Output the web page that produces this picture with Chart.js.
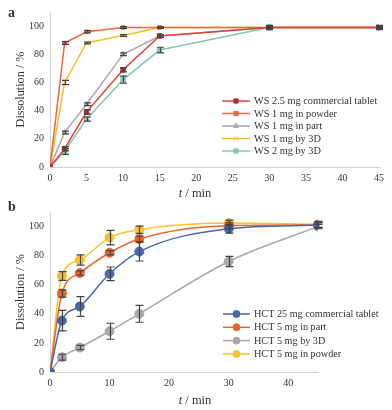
<!DOCTYPE html>
<html><head><meta charset="utf-8">
<script src="https://cdn.jsdelivr.net/npm/chart.js@4"></script>
<style>
html,body{margin:0;padding:0;background:#fff;}
#wrap{position:relative;width:392px;height:410px;overflow:hidden;font-family:"Liberation Serif","DejaVu Serif",serif;color:#333;}
canvas{position:absolute;left:0;}
.lab{position:absolute;font-size:14px;font-weight:bold;line-height:14px;}
.xt{position:absolute;font-size:12.5px;line-height:13px;transform:translate(-50%,-50%);white-space:nowrap;}
</style></head><body>
<div id="wrap">
<canvas id="ca" width="392" height="200" style="top:0"></canvas>
<canvas id="cb" width="392" height="210" style="top:200px"></canvas>
<div class="lab" style="left:8px;top:6px">a</div>
<div class="lab" style="left:8px;top:200px">b</div>
<div class="xt" style="left:195px;top:193px"><i>t</i> / min</div>
<div class="xt" style="left:195px;top:400px"><i>t</i> / min</div>
</div>
<script>
// ---- Panel a data ----
const timesA = [0, 2, 5, 10, 15, 30, 45];
const labelsA = ["WS 2.5 mg commercial tablet", "WS 1 mg in powder", "WS 1 mg in part", "WS 1 mg by 3D", "WS 2 mg by 3D"];
const wsCommercial = [0, 13, 39, 69, 93, 99, 99];
const wsCommercialErr = [0, 1.5, 1.5, 1.5, 1, 1, 1];
const wsPowder = [0, 88, 96, 99, 99, 99, 99];
const wsPowderErr = [0, 1, 0.8, 0.6, 0.5, 0.5, 0.5];
const wsPart = [0, 24.5, 44.5, 80, 93, 99, 99];
const wsPartErr = [0, 1, 1, 1, 1, 1, 1];
const ws1mg3D = [0, 60, 88, 93.3, 99, 99, 99];
const ws1mg3DErr = [0, 1.5, 0.6, 0.6, 0.5, 0.5, 0.5];
const ws2mg3D = [0, 11, 34, 62, 83, 99, 99];
const ws2mg3DErr = [0, 2, 1.5, 2.5, 2, 1.5, 1.5];
const yTicksA = [0, 20, 40, 60, 80, 100];
const xTicksA = [0, 5, 10, 15, 20, 25, 30, 35, 40, 45];

// ---- Panel b data ----
const timesB = [0, 2, 5, 10, 15, 30, 45];
const labelsB = ["HCT 25 mg commercial tablet", "HCT 5 mg in part", "HCT 5 mg by 3D", "HCT 5 mg in powder"];
const hctCommercial = [0, 35.3, 45, 67.5, 82.8, 98.5, 101];
const hctCommercialErr = [0, 7, 6.8, 4.7, 6.5, 3, 2];
const hctPart = [0, 54, 68, 82, 91.5, 100.6, 101];
const hctPartErr = [0, 2.5, 1.5, 1.5, 2, 2, 1.5];
const hct3D = [0, 10.2, 16.8, 28, 40, 76, 100];
const hct3DErr = [0, 2, 1.5, 5.5, 5.8, 3.5, 1.5];
const hctPowder = [0, 66, 77, 92.4, 97.8, 102.4, 101.5];
const hctPowderErr = [0, 3, 3.5, 5, 2.5, 2, 2];
const yTicksB = [0, 20, 40, 60, 80, 100];
const xTicksB = [0, 10, 20, 30, 40];

const FONT = "'Liberation Serif', 'DejaVu Serif', serif";

function pts(xs, ys) { return xs.map((x, i) => ({x: x, y: ys[i]})); }

const errorBarPlugin = {
  id: 'errorBars',
  afterDatasetsDraw(chart, args, opts) {
    const ctx = chart.ctx, xs = chart.scales.x, ys = chart.scales.y;
    ctx.save();
    ctx.strokeStyle = opts.color || '#444';
    ctx.lineWidth = opts.width || 1.2;
    const cap = opts.cap || 4;
    chart.data.datasets.forEach(ds => {
      if (!ds.errors) return;
      ds.data.forEach((p, i) => {
        const e = ds.errors[i];
        if (!e) return;
        const px = Math.round(xs.getPixelForValue(p.x)) + 0.5;
        const y1 = ys.getPixelForValue(p.y + e), y2 = ys.getPixelForValue(p.y - e);
        ctx.beginPath();
        ctx.moveTo(px, y1); ctx.lineTo(px, y2);
        ctx.moveTo(px - cap, y1); ctx.lineTo(px + cap, y1);
        ctx.moveTo(px - cap, y2); ctx.lineTo(px + cap, y2);
        ctx.stroke();
      });
    });
    ctx.restore();
  }
};

const legendPlugin = {
  id: 'innerLegend',
  afterDraw(chart, args, opts) {
    const ctx = chart.ctx;
    ctx.save();
    chart.data.datasets.forEach((ds, i) => {
      const y = opts.y + i * opts.dy;
      ctx.strokeStyle = ds.borderColor;
      ctx.lineWidth = 1.5;
      ctx.beginPath(); ctx.moveTo(opts.x1, y); ctx.lineTo(opts.x2, y); ctx.stroke();
      ctx.fillStyle = ds.pointBackgroundColor;
      ctx.strokeStyle = ds.pointBorderColor;
      ctx.lineWidth = 1;
      Chart.helpers.drawPoint(ctx, {pointStyle: ds.pointStyle, rotation: 0, radius: opts.r, borderWidth: 1}, (opts.x1 + opts.x2) / 2, y);
      ctx.fillStyle = '#333';
      ctx.font = opts.font;
      ctx.textBaseline = 'middle';
      ctx.textAlign = 'left';
      ctx.fillText(ds.label, opts.x2 + 4, y + 0.5);
    });
    ctx.restore();
  }
};

function mkDs(label, xs, ys, errs, color, mColor, style, r, tension) {
  return {
    label: label, data: pts(xs, ys), errors: errs,
    borderColor: color, borderWidth: 1.5,
    pointBackgroundColor: mColor, pointBorderColor: mColor,
    pointStyle: style, pointRadius: r, pointBorderWidth: 1,
    tension: tension || 0, cubicInterpolationMode: tension ? 'monotone' : 'default'
  };
}

function axes(xTicks, yTicks, xAxisH, yAxisW) {
  const tickFont = {family: FONT, size: 10};
  return {
    x: {
      type: 'linear', min: 0, max: 45,
      afterBuildTicks: s => { s.ticks = xTicks.map(v => ({value: v})); },
      afterFit: s => { s.height = xAxisH; },
      grid: {display: false, drawTicks: false},
      border: {display: true, color: '#d4d4d4', width: 1},
      ticks: {font: tickFont, color: '#333', padding: 5, maxRotation: 0, autoSkip: false}
    },
    y: {
      type: 'linear', min: 0, max: 110,
      afterBuildTicks: s => { s.ticks = yTicks.map(v => ({value: v})); },
      afterFit: s => { s.width = yAxisW; },
      grid: {display: false, drawTicks: false},
      border: {display: true, color: '#d4d4d4', width: 1},
      ticks: {font: tickFont, color: '#333', padding: 6},
      title: {display: true, text: 'Dissolution / %', font: {family: FONT, size: 12.2}, color: '#333', padding: {top: 5, bottom: 2}}
    }
  };
}

new Chart(document.getElementById('ca'), {
  type: 'line',
  data: {datasets: [
    mkDs(labelsA[0], timesA, wsCommercial, wsCommercialErr, '#e0433b', '#a8303d', 'rect', 3.2),
    mkDs(labelsA[1], timesA, wsPowder, wsPowderErr, '#e9683f', '#e9683f', 'rect', 2.5),
    mkDs(labelsA[2], timesA, wsPart, wsPartErr, '#a9a9a9', '#a9a9a9', 'triangle', 3),
    mkDs(labelsA[3], timesA, ws1mg3D, ws1mg3DErr, '#f3c02c', '#f3c02c', 'crossRot', 3),
    mkDs(labelsA[4], timesA, ws2mg3D, ws2mg3DErr, '#86c8b4', '#86c8b4', 'rect', 3.2)
  ]},
  options: {
    responsive: false, animation: false, devicePixelRatio: 1,
    layout: {padding: {left: 8, right: 13, top: 8, bottom: 0}},
    scales: axes(xTicksA, yTicksA, 33, 42),
    plugins: {
      legend: {display: false}, tooltip: {enabled: false},
      errorBars: {color: '#444', width: 1.2, cap: 3.5},
      innerLegend: {x1: 222, x2: 250, y: 101, dy: 12.5, r: 3, font: "10.3px " + FONT}
    }
  },
  plugins: [errorBarPlugin, legendPlugin]
});

new Chart(document.getElementById('cb'), {
  type: 'line',
  data: {datasets: [
    mkDs(labelsB[0], timesB, hctCommercial, hctCommercialErr, '#4a67ad', '#4a67ad', 'circle', 4.5, 0.4),
    mkDs(labelsB[1], timesB, hctPart, hctPartErr, '#e8652f', '#e8652f', 'circle', 4.5, 0.4),
    mkDs(labelsB[2], timesB, hct3D, hct3DErr, '#a8a8a8', '#a8a8a8', 'circle', 4.5, 0.4),
    mkDs(labelsB[3], timesB, hctPowder, hctPowderErr, '#f6c22e', '#f6c22e', 'circle', 4.5, 0.4)
  ]},
  options: {
    responsive: false, animation: false, devicePixelRatio: 1,
    layout: {padding: {left: 8, right: 74, top: 5, bottom: 0}},
    scales: axes(xTicksB, yTicksB, 38, 42),
    plugins: {
      legend: {display: false}, tooltip: {enabled: false},
      errorBars: {color: '#444', width: 1.2, cap: 4},
      innerLegend: {x1: 223, x2: 250, y: 114, dy: 13.3, r: 3.5, font: "10.2px " + FONT}
    }
  },
  plugins: [errorBarPlugin, legendPlugin]
});
</script>
</body></html>
